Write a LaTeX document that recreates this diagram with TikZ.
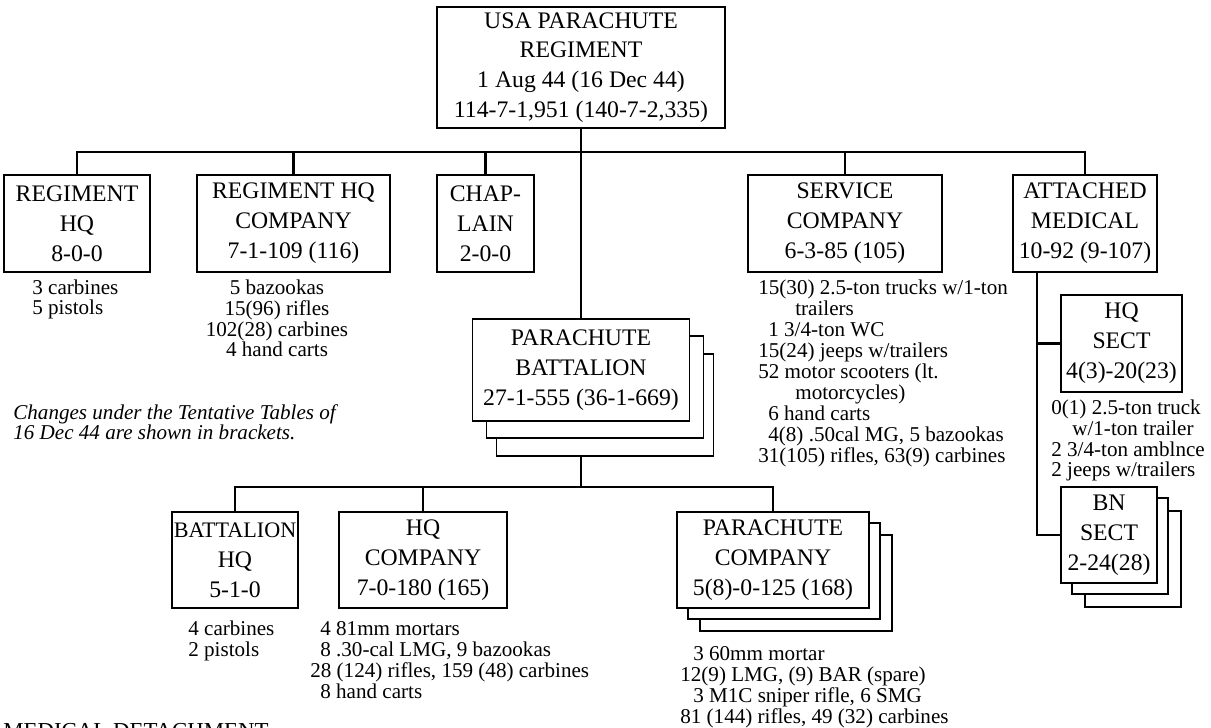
\documentclass[tikz,border=0pt]{standalone}
\usepackage{fontspec}
\setmainfont{Liberation Serif}
\usepackage{tikz}
\usetikzlibrary{calc}

\newcommand{\boxfont}{\fontsize{13.5}{17}\selectfont}
\newcommand{\gearfont}{\fontsize{12}{11.9}\selectfont}

\tikzset{
  unit/.style={draw, line width=1pt, fill=white, align=center, inner sep=0pt, font=\boxfont},
  gear/.style={inner sep=0pt, font=\gearfont},
  link/.style={line width=1.6pt}
}

\begin{document}
\begin{tikzpicture}
  \useasboundingbox (0,0) rectangle (24.22,-14.56);

  % Regiment and its units
  \node[unit, minimum width=5.76cm, minimum height=2.42cm] (regt) at (11.62,-1.35) {USA PARACHUTE\\REGIMENT\\1 Aug 44 (16 Dec 44)\\114-7-1,951 (140-7-2,335)};
  \node[unit, minimum width=2.92cm, minimum height=1.94cm] (rhq) at (1.54,-4.47) {REGIMENT\\HQ\\8-0-0};
  \node[unit, minimum width=3.86cm, minimum height=1.94cm] (rhqco) at (5.87,-4.47) {REGIMENT HQ\\COMPANY\\7-1-109 (116)};
  \node[unit, minimum width=1.94cm, minimum height=1.94cm] (chap) at (9.71,-4.47) {CHAP-\\LAIN\\2-0-0};
  \node[unit, minimum width=3.88cm, minimum height=1.94cm] (svc) at (16.90,-4.47) {SERVICE\\COMPANY\\6-3-85 (105)};
  \node[unit, minimum width=2.88cm, minimum height=1.94cm] (med) at (21.70,-4.47) {ATTACHED\\MEDICAL\\10-92 (9-107)};

  % Battalion, three deep
  \node[unit, minimum width=4.34cm, minimum height=2.04cm] (batt3) at (12.10,-8.10) {};
  \node[unit, minimum width=4.34cm, minimum height=2.04cm] (batt2) at (11.90,-7.74) {};
  \node[unit, minimum width=4.34cm, minimum height=2.04cm] (batt) at (11.62,-7.40) {PARACHUTE\\BATTALION\\27-1-555 (36-1-669)};

  % Battalion units
  \node[unit, minimum width=2.52cm, minimum height=1.92cm] (bhq) at (4.70,-11.20) {{\fontsize{12.6}{17}\selectfont BATTALION}\\HQ\\5-1-0};
  \node[unit, minimum width=3.36cm, minimum height=1.92cm] (hqco) at (8.46,-11.20) {HQ\\COMPANY\\7-0-180 (165)};
  \node[unit, minimum width=3.84cm, minimum height=1.92cm] (paraco3) at (15.92,-11.66) {};
  \node[unit, minimum width=3.84cm, minimum height=1.92cm] (paraco2) at (15.68,-11.42) {};
  \node[unit, minimum width=3.84cm, minimum height=1.92cm] (paraco) at (15.46,-11.20) {PARACHUTE\\COMPANY\\5(8)-0-125 (168)};

  % Medical sections
  \node[unit, minimum width=2.42cm, minimum height=1.94cm] (hqsect) at (22.43,-6.87) {HQ\\SECT\\4(3)-20(23)};
  \node[unit, minimum width=1.92cm, minimum height=1.92cm] (bnsect3) at (22.66,-11.18) {};
  \node[unit, minimum width=1.92cm, minimum height=1.92cm] (bnsect2) at (22.40,-10.92) {};
  \node[unit, minimum width=1.92cm, minimum height=1.92cm] (bnsect) at (22.18,-10.70) {BN\\SECT\\2-24(28)};

  % Connectors
  \coordinate (bus) at (11.62,-3.04);
  \coordinate (bbus) at (11.62,-9.74);
  \coordinate (mspine) at (20.74,-5.44);
  \draw[link] (regt.south) -- (batt.north);
  \draw[link] (rhq.north) |- (bus) -| (med.north);
  \draw[link] (rhqco.north) -- (rhqco.north |- bus);
  \draw[link] (chap.north) -- (chap.north |- bus);
  \draw[link] (svc.north) -- (svc.north |- bus);
  \draw[link] (batt3.south -| bbus) -- (bbus);
  \draw[link] (bhq.north) |- (bbus) -| (paraco.north);
  \draw[link] (hqco.north) -- (hqco.north |- bbus);
  \draw[link] (mspine) |- (hqsect.west);
  \draw[link] (mspine) |- (bnsect.west);

  % Weapons and vehicles (placed at the baseline of the last line)
  \node[gear, anchor=base west, align=left] (rhqgear) at (0.64,-6.30) {3 carbines\\5 pistols};
  \node[gear, anchor=base, align=center] (rhqcogear) at (5.54,-7.14) {5 bazookas\\15(96) rifles\\102(28) carbines\\4 hand carts};
  \node[gear, anchor=base west, align=left] (svcgear) at (15.16,-9.24) {15(30) 2.5-ton trucks w/1-ton\\\hspace*{0.74cm}trailers\\\hspace*{0.2cm}1 3/4-ton WC\\15(24) jeeps w/trailers\\52 motor scooters (lt.\\\hspace*{0.74cm}motorcycles)\\\hspace*{0.2cm}6 hand carts\\\hspace*{0.2cm}4(8) .50cal MG, 5 bazookas\\31(105) rifles, 63(9) carbines};
  \node[gear, anchor=base west, align=left] (hqsectgear) at (21.02,-9.54) {0(1) 2.5-ton truck\\\hspace*{0.42cm}w/1-ton trailer\\2 3/4-ton amblnce\\2 jeeps w/trailers};
  \node[gear, anchor=base west, align=left] (bhqgear) at (3.76,-13.12) {4 carbines\\2 pistols};
  \node[gear, anchor=base west, align=left] (hqcogear) at (6.20,-13.96) {\hspace*{0.2cm}4 81mm mortars\\\hspace*{0.2cm}8 .30-cal LMG, 9 bazookas\\28 (124) rifles, 159 (48) carbines\\\hspace*{0.2cm}8 hand carts};
  \node[gear, anchor=base west, align=left] (paracogear) at (13.60,-14.46) {\hspace*{0.26cm}3 60mm mortar\\12(9) LMG, (9) BAR (spare)\\\hspace*{0.26cm}3 M1C sniper rifle, 6 SMG\\81 (144) rifles, 49 (32) carbines};

  % Notes
  \node[gear, anchor=base west, align=left, font=\gearfont\itshape] (note) at (0.26,-8.80) {Changes under the Tentative Tables of\\16 Dec 44 are shown in brackets.};
  \node[anchor=base west, inner sep=0pt, font=\fontsize{13}{15}\selectfont] (meddet) at (0.06,-14.76) {MEDICAL DETACHMENT};

\end{tikzpicture}
\end{document}
